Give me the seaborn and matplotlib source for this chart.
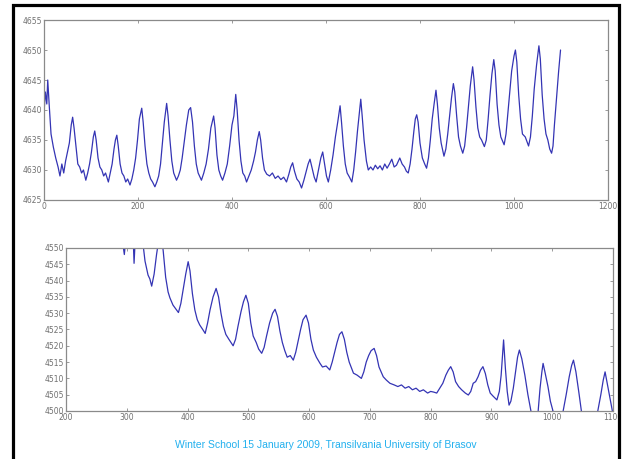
import matplotlib
matplotlib.use("Agg")
import matplotlib.pyplot as plt
import seaborn as sns
import numpy as np
from matplotlib.patches import Rectangle

sns.set_theme(style="white")
plt.rcParams['font.family'] = ['DejaVu Sans']

# ---------------- data ----------------
top_x = [0, 3, 6, 8, 11, 15, 20, 25, 30, 34, 38, 42, 46, 50, 54, 58, 61, 64, 68, 72, 76, 80, 84, 89,
         93, 97, 101, 105, 108, 111, 115, 119, 123, 127, 131, 137, 141, 145, 149, 152, 155, 158, 162,
         166, 170, 174, 178, 183, 187, 191, 195, 199, 203, 208, 211, 215, 219, 223, 227, 231, 236, 240,
         244, 248, 252, 256, 261, 264, 268, 272, 276, 282, 286, 290, 294, 298, 303, 308, 312, 316, 320,
         324, 328, 335, 340, 345, 350, 355, 361, 364, 368, 372, 376, 380, 385, 390, 395, 400, 404, 408,
         411, 415, 419, 423, 427, 431, 436, 441, 446, 450, 454, 458, 461, 465, 469, 474, 480, 486, 492,
         498, 504, 510, 516, 521, 525, 529, 533, 538, 543, 548, 553, 558, 562, 566, 570, 575, 579, 584,
         589, 593, 597, 601, 605, 610, 615, 620, 625, 630, 633, 637, 641, 645, 650, 655, 659, 663, 667,
         671, 674, 677, 681, 686, 690, 695, 700, 705, 710, 715, 720, 725, 730, 735, 740, 745, 750, 757,
         762, 767, 771, 775, 779, 783, 787, 790, 793, 796, 800, 805, 810, 814, 818, 822, 826, 830, 834,
         837, 841, 845, 851, 855, 859, 863, 867, 871, 874, 878, 882, 886, 891, 895, 899, 903, 907, 912,
         915, 919, 923, 927, 931, 937, 941, 945, 949, 953, 957, 960, 964, 968, 972, 979, 983, 987, 991,
         995, 1000, 1003, 1006, 1010, 1014, 1018, 1024, 1031, 1035, 1039, 1043, 1048, 1053, 1056, 1060,
         1064, 1068, 1072, 1076, 1080, 1083, 1086, 1089, 1092, 1095, 1099]
top_y = [4639.5, 4643, 4641, 4645, 4641, 4636, 4633.8, 4632, 4630.5, 4629, 4631, 4629.5, 4631.5, 4633,
         4634.5, 4637.5, 4638.8, 4637, 4634, 4631, 4630.5, 4629.5, 4630, 4628.3, 4629.5, 4631, 4633,
         4635.5, 4636.5, 4635, 4632, 4630.5, 4630, 4629, 4629.5, 4628, 4629.5, 4631, 4633.5, 4635,
         4635.8, 4634, 4631, 4629.5, 4629, 4628, 4628.5, 4627.5, 4628.5, 4630, 4632, 4635, 4638.5,
         4640.3, 4638, 4634, 4631, 4629.5, 4628.5, 4628, 4627.2, 4628, 4629, 4631, 4634.5, 4638,
         4641.1, 4639, 4635, 4631.5, 4629.5, 4628.3, 4629, 4630, 4632, 4634.5, 4637.5, 4640, 4640.4,
         4638, 4634, 4631, 4629.5, 4628.3, 4629.5, 4631, 4633.5, 4637, 4639, 4637, 4632.5, 4630, 4629,
         4628.3, 4629.5, 4631, 4634, 4637.5, 4639, 4642.6, 4640, 4635, 4631.5, 4629.5, 4629, 4628,
         4629, 4630, 4631.5, 4633, 4635, 4636.4, 4635, 4632, 4630, 4629.3, 4629, 4629.5, 4628.6, 4629,
         4628.4, 4628.8, 4628, 4629.3, 4630.5, 4631.2, 4629.8, 4628.5, 4628, 4627, 4628.3, 4629.8,
         4631, 4631.8, 4630.5, 4628.8, 4628, 4630, 4632, 4633, 4631, 4629, 4628, 4630, 4632.5, 4635.5,
         4638, 4640.7, 4638, 4634, 4631, 4629.5, 4628.8, 4628, 4630, 4633, 4636.5, 4639.5, 4641.8,
         4639, 4635, 4631.5, 4630, 4630.5, 4630, 4630.8, 4630.2, 4630.7, 4630, 4631, 4630.3, 4631,
         4631.8, 4630.5, 4630.8, 4632, 4631, 4630.5, 4629.8, 4629.5, 4631, 4633.5, 4636.5, 4638.5,
         4639.2, 4638, 4634.5, 4632, 4631, 4630.3, 4632, 4635, 4638.5, 4641, 4643.3, 4641, 4637,
         4634.5, 4632.3, 4633.5, 4636, 4639, 4642, 4644.4, 4643, 4639, 4635.5, 4634, 4632.8, 4634,
         4637, 4640.5, 4644, 4647.2, 4645, 4640.5, 4637, 4635.5, 4635, 4633.9, 4635, 4638.5, 4642.5,
         4646, 4648.4, 4646.5, 4641, 4637.5, 4635.5, 4634.2, 4636, 4639.5, 4643, 4646.5, 4649, 4650,
         4648, 4642.5, 4638.5, 4636, 4635.5, 4634, 4635.5, 4639, 4643.5, 4647.5, 4650.7, 4648.5,
         4642.5, 4638.5, 4636, 4635, 4633.5, 4632.8, 4634, 4637.5, 4640.5, 4643.5, 4646.5, 4650]

bot_x = [290, 296, 299, 305, 310, 312, 314, 320, 325, 330, 335, 338, 341, 345, 349, 353, 357, 360, 364,
         368, 371, 376, 382, 385, 389, 393, 397, 401, 404, 408, 412, 416, 420, 425, 429, 433, 437, 442,
         447, 451, 455, 459, 463, 468, 475, 479, 483, 488, 492, 496, 500, 504, 508, 513, 517, 522, 526,
         530, 535, 540, 544, 548, 552, 556, 560, 564, 569, 574, 578, 582, 586, 590, 595, 599, 603, 607,
         612, 618, 622, 628, 634, 638, 642, 646, 650, 654, 658, 662, 666, 673, 679, 686, 690, 694, 698,
         702, 707, 711, 715, 722, 727, 733, 740, 746, 752, 758, 764, 770, 776, 782, 788, 795, 800, 805,
         810, 815, 820, 825, 829, 833, 837, 841, 846, 851, 857, 862, 866, 870, 874, 878, 882, 886, 890,
         894, 898, 903, 909, 913, 916, 920, 923, 926, 929, 932, 936, 940, 943, 946, 950, 955, 960, 965,
         970, 976, 980, 983, 985, 988, 993, 997, 1002, 1010, 1018, 1023, 1028, 1032, 1035, 1039, 1044,
         1048, 1055, 1065, 1075, 1080, 1084, 1087, 1090, 1095, 1099, 1102]
bot_y = [4556, 4548, 4554, 4560, 4556, 4545.3, 4553, 4560, 4554, 4546, 4541.7, 4540.5, 4538.3, 4542,
         4548, 4553, 4554, 4549, 4541, 4536.5, 4534.7, 4532.5, 4531, 4530.2, 4533, 4537.5, 4542,
         4545.8, 4543, 4536, 4531, 4528, 4526.4, 4525, 4523.8, 4527, 4531, 4535, 4537.6, 4535, 4530,
         4526, 4523.5, 4522, 4520, 4522, 4526, 4530.5, 4533.5, 4535.5, 4533, 4527, 4523, 4521, 4519,
         4517.7, 4519.5, 4523, 4527, 4530, 4531.2, 4529, 4524.5, 4521, 4518.5, 4516.5, 4517, 4515.6,
         4518, 4521.5, 4525, 4528, 4529.4, 4527, 4522, 4518.7, 4516.5, 4514.6, 4513.5, 4513.8,
         4512.6, 4515, 4518, 4521, 4523.5, 4524.3, 4522, 4518, 4515, 4511.6, 4511, 4510, 4512, 4515,
         4517, 4518.5, 4519.2, 4517, 4513.5, 4510.5, 4509.5, 4508.5, 4508, 4507.5, 4508, 4507, 4507.5,
         4506.5, 4507, 4506, 4506.5, 4505.5, 4506, 4505.8, 4505.5, 4507, 4508.5, 4511, 4512.5, 4513.6,
         4512, 4509, 4507.5, 4506.5, 4505.5, 4504.9, 4506, 4508.5, 4509, 4510.5, 4512.5, 4513.6,
         4511.5, 4508, 4505.5, 4504.5, 4503.4, 4506, 4511, 4521.8, 4513, 4506, 4501.8, 4503, 4507,
         4512.5, 4516.5, 4518.7, 4516, 4511, 4505, 4500, 4496, 4498, 4507, 4512, 4514.6, 4512, 4507.5,
         4503, 4499.5, 4496, 4500, 4505, 4510.5, 4514, 4515.6, 4512, 4505.5, 4500, 4496, 4496, 4500,
         4505, 4509.5, 4512, 4509, 4504, 4500, 4497]

top_xticks = [0, 200, 400, 600, 800, 1000, 1200]
top_yticks = [4625, 4630, 4635, 4640, 4645, 4650, 4655]
bot_xticks = [200, 300, 400, 500, 600, 700, 800, 900, 1000, 1100]
bot_yticks = [4500, 4505, 4510, 4515, 4520, 4525, 4530, 4535, 4540, 4545, 4550]
footer = "Winter School 15 January 2009, Transilvania University of Brasov"

# ---------------- figure ----------------
fig = plt.figure(figsize=(6.22, 4.59), dpi=100)
fig.patch.set_facecolor("white")

ax1 = fig.add_axes([0.0707, 0.5643, 0.9068, 0.3921])
ax2 = fig.add_axes([0.1061, 0.1046, 0.8794, 0.3551])

line_color = "#3434b4"
sns.lineplot(x=top_x, y=top_y, ax=ax1, color=line_color, linewidth=0.9, estimator=None, sort=False)
sns.lineplot(x=bot_x, y=bot_y, ax=ax2, color=line_color, linewidth=0.9, estimator=None, sort=False)

ax1.set_xlim(0, 1200)
ax1.set_ylim(4625, 4655)
ax1.set_xticks(top_xticks)
ax1.set_yticks(top_yticks)
ax2.set_xlim(200, 1100)
ax2.set_ylim(4500, 4550)
ax2.set_xticks(bot_xticks)
ax2.set_yticks(bot_yticks)

for ax in (ax1, ax2):
    ax.set_facecolor("white")
    for s in ax.spines.values():
        s.set_visible(True)
        s.set_color("#8a8a8a")
        s.set_linewidth(0.9)
    ax.tick_params(direction="in", length=2.5, width=0.6, color="#8a8a8a",
                   top=True, right=True, bottom=True, left=True,
                   labelsize=5.5, labelcolor="#707070", pad=1.5)
    ax.set_xlabel("")
    ax.set_ylabel("")
    ax.grid(False)

fig.text(0.524, 0.0305, footer, ha="center", va="center", color="#22b0ee",
         fontsize=7.5, family=["Liberation Sans", "DejaVu Sans"])

# slide frame
fig.add_artist(Rectangle((12.5 / 622, -0.2), (619 - 12.5) / 622, 1.2 - 4.5 / 459 + 0.0,
                         transform=fig.transFigure, fill=False, edgecolor="black",
                         linewidth=2.3, zorder=10))
fig.add_artist(Rectangle((620.5 / 622, 0), 2 / 622, 1, transform=fig.transFigure,
                         facecolor="white", edgecolor="none", zorder=9))

fig.savefig("out.png", dpi=100)
